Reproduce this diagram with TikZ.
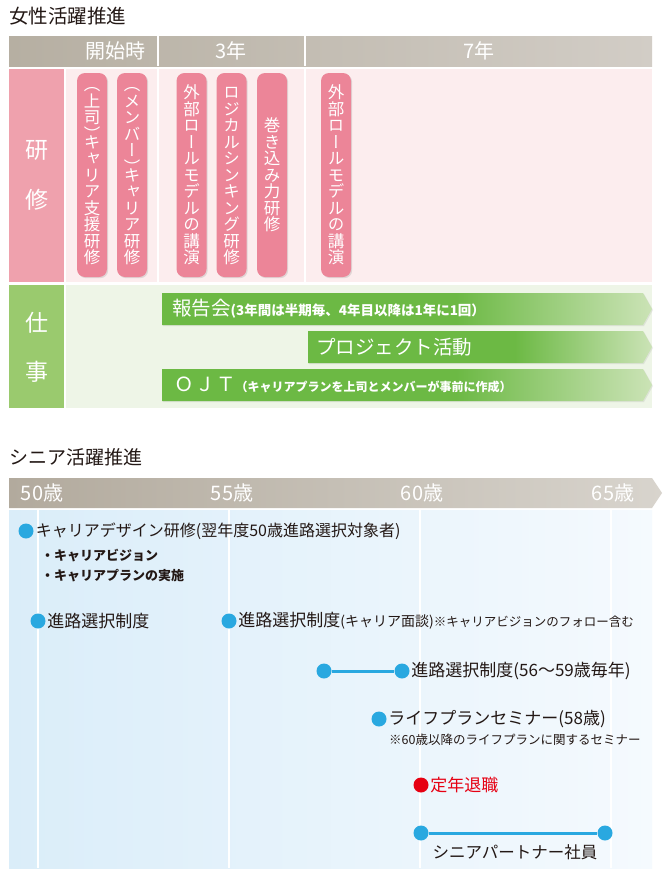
\documentclass[tikz,border=0pt]{standalone}
\usepackage{fontspec}
\setmainfont{Noto Sans CJK JP}
\newfontfamily\tatefont[RawFeature=+vert]{Noto Sans CJK JP}
\usetikzlibrary{shadows,positioning}

\definecolor{textdark}{RGB}{35,24,21}
\definecolor{hdrleft}{RGB}{182,175,162}
\definecolor{hdrright}{RGB}{210,205,198}
\definecolor{kenlabel}{RGB}{239,161,173}
\definecolor{kenback}{RGB}{252,237,238}
\definecolor{pillpink}{RGB}{236,133,152}
\definecolor{shilabel}{RGB}{154,202,110}
\definecolor{shiback}{RGB}{238,245,231}
\definecolor{workgreen}{RGB}{108,185,68}
\definecolor{workgreenlt}{RGB}{203,227,182}
\definecolor{tlleft}{RGB}{178,170,157}
\definecolor{tlright}{RGB}{216,212,205}
\definecolor{blueleft}{RGB}{218,237,249}
\definecolor{blueright}{RGB}{245,250,254}
\definecolor{dotblue}{RGB}{41,168,224}
\definecolor{retired}{RGB}{230,0,18}

\pgfdeclarehorizontalshading{greenfade}{100bp}{color(0bp)=(workgreen); color(55bp)=(workgreen); color(75bp)=(workgreenlt); color(100bp)=(workgreenlt)}

\newcommand\fsz[1]{\fontsize{#1}{#1}\selectfont}
% one character per line, vertical glyph forms; brackets get half a cell
\newcommand\tate[1]{\vbox{\offinterlineskip\tatefont\tateloop#1\relax}}
\def\tateloop#1{\ifx\relax#1\else\tatecell{#1}\expandafter\tateloop\fi}
\def\tatecell#1{%
	\ifx（#1\hbox to 1em{\vrule height .38em depth .12em width 0pt\hss\smash{#1}\hss}%
	\else\ifx）#1\hbox to 1em{\vrule height .5em depth 0em width 0pt\hss\smash{\lower.38em\hbox{#1}}\hss}%
	\else\hbox to 1em{\vrule height .88em depth .12em width 0pt\hss#1\hss}\fi\fi}

\begin{document}
\begin{tikzpicture}[x=1pt,y=-1pt,
	pill/.style={rectangle, rounded corners=8pt, fill=pillpink, minimum width=30pt, minimum height=204pt, inner sep=0pt, text=white, font=\fsz{16.5}, drop shadow={opacity=.22, shadow xshift=1.2pt, shadow yshift=-1.2pt}},
	hdr/.style={text=white, font=\fsz{20}, inner sep=0pt},
	rowlbl/.style={text=white, align=center, inner sep=0pt},
	worktxt/.style={anchor=west, text=white, inner sep=0pt, font=\fsz{19.5}},
	workarrow/.style={shading=greenfade, drop shadow={opacity=.15, shadow xshift=1pt, shadow yshift=-1pt}},
	age/.style={text=white, font=\fsz{20}, inner sep=0pt},
	dot/.style={circle, fill=dotblue, minimum size=15pt, inner sep=0pt},
	item/.style={anchor=west, inner sep=0pt, text=textdark, font=\fsz{17}},
	note/.style={anchor=west, inner sep=0pt, text=textdark, font=\fsz{12.5}},
	tline/.style={draw=dotblue, line width=3pt}]
	\fill[white] (0,0) rectangle (666,878);
	\useasboundingbox (0,0) rectangle (666,878);

	% women
	\node[anchor=west, inner sep=0pt, text=textdark, font=\fsz{19.5}] (ttlw) at (9,16) {女性活躍推進};
	\shade[left color=hdrleft, right color=hdrright] (9,36) rectangle (652,66);
	\fill[white] (157,36) rectangle (159,66);
	\fill[white] (304,36) rectangle (306,66);
	\node[hdr] (h1) at (115,51) {開始時};
	\node[hdr] (h2) at (231,51) {3年};
	\node[hdr] (h3) at (479,51) {7年};

	\fill[kenlabel] (9,69) rectangle (64,282);
	\fill[kenback] (66,69) rectangle (157,282);
	\fill[kenback] (159,69) rectangle (304,282);
	\fill[kenback] (306,69) rectangle (652,282);
	\node[rowlbl, font=\fontsize{23}{50}\selectfont] (ken) at (37,175) {研\\修};

	\node[pill] (p1) at (92,175) {\tate{（上司）キャリア支援研修}};
	\node[pill] (p2) at (132,175) {\tate{（メンバー）キャリア研修}};
	\node[pill] (p3) at (191.5,175) {\tate{外部ロールモデルの講演}};
	\node[pill] (p4) at (231.5,175) {\tate{ロジカルシンキング研修}};
	\node[pill] (p5) at (272,175) {\tate{巻き込み力研修}};
	\node[pill] (p6) at (336,175) {\tate{外部ロールモデルの講演}};

	\fill[shilabel] (9,285) rectangle (64,408);
	\fill[shiback] (66,285) rectangle (652,408);
	\node[rowlbl, font=\fontsize{23}{49}\selectfont] (shi) at (37,347) {仕\\事};

	\path[workarrow] (162,293) -- (643,293) -- (652,309) -- (643,325) -- (162,325) -- cycle;
	\path[workarrow] (308,331) -- (643,331) -- (652,347) -- (643,363) -- (308,363) -- cycle;
	\path[workarrow] (162,369) -- (643,369) -- (652,385) -- (643,401) -- (162,401) -- cycle;
	\node[worktxt] (rep) at (172,309) {報告会{\fsz{13.5}\bfseries (3年間は半期毎、4年目以降は1年に1回）}};
	\node[worktxt] (proj) at (316,347) {プロジェクト活動};
	\node[worktxt] (ojt) at (174,385) {Ｏ\hspace{1.5pt}Ｊ\hspace{1.5pt}Ｔ{\fsz{12}\bfseries （キャリアプランを上司とメンバーが事前に作成）}};

	% senior
	\node[anchor=west, inner sep=0pt, text=textdark, font=\fsz{19}] (ttls) at (9,457) {シニア活躍推進};
	\shade[left color=tlleft, right color=tlright] (9,478) -- (652,478) -- (662,493) -- (652,508) -- (9,508) -- cycle;
	\node[age] (a50) at (42,493) {50歳};
	\node[age] (a55) at (232,493) {55歳};
	\node[age] (a60) at (422,493) {60歳};
	\node[age] (a65) at (613,493) {65歳};

	\shade[left color=blueleft, right color=blueright] (9,510) rectangle (652,868);
	\foreach \x in {38,229,420,611}
		\fill[white] (\x-1,510) rectangle (\x+1,868);

	\node[dot] (d1) at (26,531) {};
	\node[item, font=\fsz{16}] (t1) at ([xshift=2pt]d1.east) {キャリアデザイン研修(翌年度50歳進路選択対象者)};
	\node[note, font=\fsz{13}\bfseries] (t1a) at (41,556) {・キャリアビジョン};
	\node[note, font=\fsz{13}\bfseries] (t1b) at (41,576) {・キャリアプランの実施};

	\node[dot] (d2) at (38,621) {};
	\node[item] (t2) at ([xshift=1.5pt]d2.east) {進路選択制度};

	\node[dot] (d3) at (229,621) {};
	\node[item] (t3) at ([xshift=1.5pt]d3.east) {進路選択制度{\fsz{14}(キャリア面談)}{\fsz{12.5}※キャリアビジョンのフォロー含む}};

	\node[dot] (d4) at (324,671) {};
	\node[dot] (d5) at (402,671) {};
	\draw[tline] (d4) -- (d5);
	\node[item] (t5) at ([xshift=1.5pt]d5.east) {進路選択制度(56～59歳毎年)};

	\node[dot] (d6) at (379,719) {};
	\node[item] (t6) at ([xshift=1.5pt]d6.east) {ライフプランセミナー(58歳)};
	\node[note] (t6a) at (389,740) {※60歳以降のライフプランに関するセミナー};

	\node[dot, fill=retired] (d7) at (421,785) {};
	\node[item, text=retired] (t7) at ([xshift=1.5pt]d7.east) {定年退職};

	\node[dot] (d8) at (421,833) {};
	\node[dot] (d9) at (605,833) {};
	\draw[tline] (d8) -- (d9);
	\node[inner sep=0pt, text=textdark, font=\fsz{16.5}] (t8) at (515,852) {シニアパートナー社員};
\end{tikzpicture}
\end{document}
